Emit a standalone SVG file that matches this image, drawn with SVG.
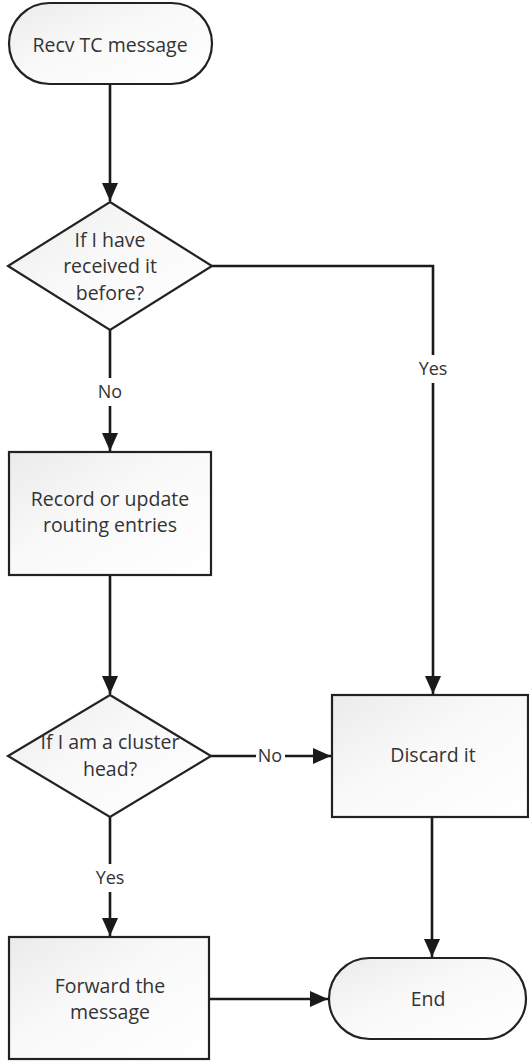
<svg xmlns="http://www.w3.org/2000/svg" width="529" height="1061" viewBox="0 0 529 1061">
<style>
.shape{stroke:#222;stroke-width:2.2;fill:url(#g)}
.t{font-family:"Open Sans","Liberation Sans",sans-serif;font-size:19.5px;fill:#333;text-anchor:middle}
.c{stroke:#1a1a1a;stroke-width:2.6;fill:none}
.lbl{font-family:"Open Sans","Liberation Sans",sans-serif;font-size:18px;fill:#333;text-anchor:middle}
</style>
<defs>
<linearGradient id="g" x1="0" y1="0" x2="1" y2="1">
<stop offset="0" stop-color="#ebebeb"/>
<stop offset="0.45" stop-color="#f9f9f9"/>
<stop offset="1" stop-color="#ffffff"/>
</linearGradient>
<marker id="a" markerWidth="18" markerHeight="18" refX="18" refY="9" orient="auto" markerUnits="userSpaceOnUse">
<path d="M0,1 L18,9 L0,17 Z" fill="#1a1a1a"/>
</marker>
</defs>
<g id="connectors">
<path class="c" d="M110,84 V201" marker-end="url(#a)"/>
<path class="c" d="M110,330 V378 M110,406 V451" marker-end="url(#a)"/>
<text class="lbl" x="110" y="398">No</text>
<path class="c" d="M212,266 H433 V355 M433,383 V694" marker-end="url(#a)"/>
<text class="lbl" x="433" y="375">Yes</text>
<path class="c" d="M110,576 V694" marker-end="url(#a)"/>
<path class="c" d="M211,756 H256 M285,756 H331" marker-end="url(#a)"/>
<text class="lbl" x="270" y="762">No</text>
<path class="c" d="M110,817 V864 M110,892 V936" marker-end="url(#a)"/>
<text class="lbl" x="110" y="884">Yes</text>
<path class="c" d="M432,818 V957" marker-end="url(#a)"/>
<path class="c" d="M209,999 H328" marker-end="url(#a)"/>
</g>
<g id="start">
<rect class="shape" x="9" y="3" width="203" height="81" rx="40.5"/>
<text class="t" x="110" y="52">Recv TC message</text>
</g>
<g id="decision1">
<path class="shape" d="M110,202 L212,266 L110,330 L8,266 Z"/>
<text class="t" x="110" y="247">If I have</text>
<text class="t" x="110" y="273">received it</text>
<text class="t" x="110" y="300">before?</text>
</g>
<g id="record">
<rect class="shape" x="9" y="452" width="202" height="123"/>
<text class="t" x="110" y="506">Record or update</text>
<text class="t" x="110" y="532">routing entries</text>
</g>
<g id="decision2">
<path class="shape" d="M110,695 L211,756 L110,817 L8,756 Z"/>
<text class="t" x="110" y="749">If I am a cluster</text>
<text class="t" x="110" y="776">head?</text>
</g>
<g id="discard">
<rect class="shape" x="332" y="695" width="196" height="122"/>
<text class="t" x="433" y="762">Discard it</text>
</g>
<g id="forward">
<rect class="shape" x="9" y="937" width="200" height="122"/>
<text class="t" x="110" y="993">Forward the</text>
<text class="t" x="110" y="1019">message</text>
</g>
<g id="end">
<rect class="shape" x="329" y="958" width="197" height="81" rx="40.5"/>
<text class="t" x="428" y="1006">End</text>
</g>
</svg>
